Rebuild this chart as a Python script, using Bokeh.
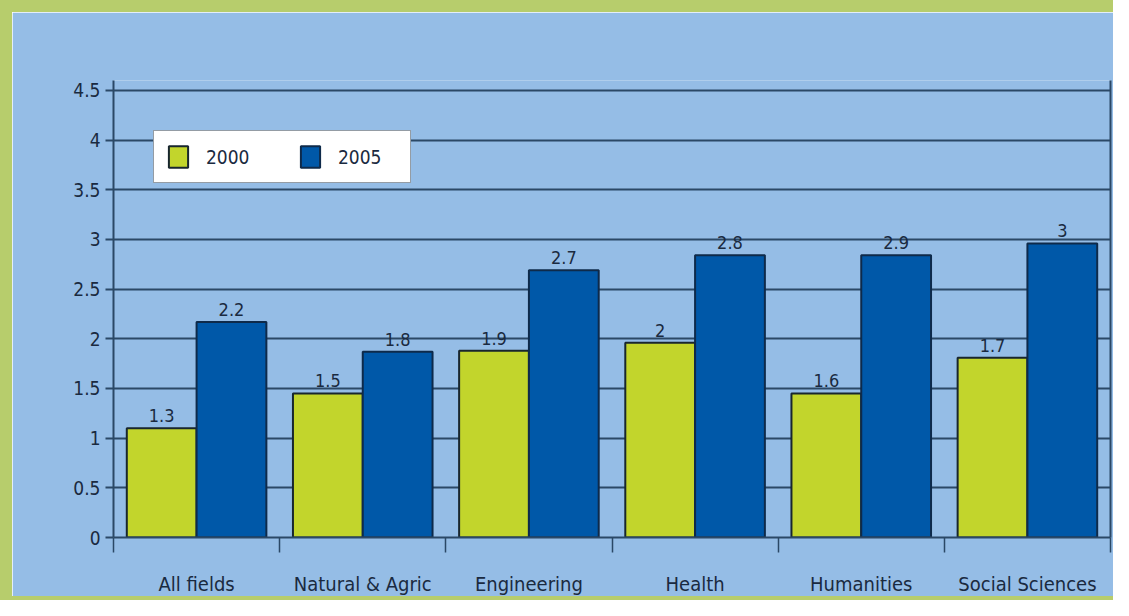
from bokeh.plotting import figure
from bokeh.models import (ColumnDataSource, FixedTicker, LinearAxis, Range1d,
                          Legend, LegendItem)
from bokeh.transform import dodge
from bokeh.core.properties import value
from bokeh.embed import file_html
from bokeh.resources import INLINE

# ---- data ----
categories = ["All fields", "Natural & Agric", "Engineering", "Health",
              "Humanities", "Social Sciences"]
values_2000 = [1.10, 1.45, 1.88, 1.96, 1.45, 1.81]
values_2005 = [2.17, 1.87, 2.69, 2.84, 2.84, 2.96]
labels_2000 = ["1.3", "1.5", "1.9", "2", "1.6", "1.7"]
labels_2005 = ["2.2", "1.8", "2.7", "2.8", "2.9", "3"]
series_names = ["2000", "2005"]
y_ticks = [0, 0.5, 1, 1.5, 2, 2.5, 3, 3.5, 4, 4.5]
y_tick_labels = ["0", "0.5", "1", "1.5", "2", "2.5", "3", "3.5", "4", "4.5"]

FONT = "DejaVu Sans Condensed"
BG = "#95bde6"
GREEN = "#c2d52c"
BLUE = "#0058a8"
DARK = "#1a2a40"
GRID = "#2b4866"
FRAME = "#b7cd6c"

pos = [i + 0.5 for i in range(len(categories))]
src = ColumnDataSource(dict(cat=categories, pos=pos,
                            v2000=values_2000, v2005=values_2005,
                            l2000=labels_2000, l2005=labels_2005))

p = figure(width=1113, height=600, output_backend="svg", toolbar_location=None,
           x_range=Range1d(0, len(categories)), y_range=Range1d(0, 4.6),
           min_border_left=101, min_border_right=15, min_border_top=68,
           min_border_bottom=75)
p.styles = {"border-left": f"12px solid {FRAME}", "border-top": f"12px solid {FRAME}",
            "border-bottom": f"4px solid {FRAME}", "box-sizing": "border-box"}
p.background_fill_color = BG
p.border_fill_color = BG
p.outline_line_color = None

# x axis: labels at category centres, ticks at category boundaries
xa = p.xaxis[0]
xa.ticker = FixedTicker(ticks=pos, minor_ticks=list(range(len(categories) + 1)))
xa.major_label_overrides = {x: c for x, c in zip(pos, categories)}
xa.major_tick_out = 0
xa.major_tick_in = 0
xa.minor_tick_out = 15
xa.minor_tick_in = 0
xa.minor_tick_line_color = GRID
xa.minor_tick_line_width = 1.5
xa.axis_line_color = GRID
xa.axis_line_width = 2
xa.major_label_standoff = 19
xa.major_label_text_font = FONT
xa.major_label_text_font_size = "20px"
xa.major_label_text_color = DARK

ya = p.yaxis[0]
ya.ticker = FixedTicker(ticks=y_ticks)
ya.major_label_overrides = {t: l for t, l in zip(y_ticks, y_tick_labels)}
ya.major_tick_out = 8
ya.major_tick_in = 0
ya.major_tick_line_color = GRID
ya.major_tick_line_width = 2
ya.minor_tick_line_color = None
ya.axis_line_color = GRID
ya.axis_line_width = 2
ya.major_label_standoff = 5
ya.major_label_text_font = FONT
ya.major_label_text_font_size = "19px"
ya.major_label_text_color = DARK

ra = LinearAxis(ticker=FixedTicker(ticks=[]), axis_line_color=GRID,
                axis_line_width=2, major_tick_line_color=None,
                minor_tick_line_color=None, major_label_text_font_size="0px")
p.add_layout(ra, "right")

p.xgrid.grid_line_color = None
p.ygrid.ticker = FixedTicker(ticks=y_ticks[1:])
p.ygrid.grid_line_color = GRID
p.ygrid.grid_line_width = 2

off = 0.21
w = 0.42
r1 = p.vbar(x=dodge("pos", -off), top="v2000", width=w, source=src,
            fill_color=GREEN, line_color="#18262e", line_width=2)
r2 = p.vbar(x=dodge("pos", off), top="v2005", width=w, source=src,
            fill_color=BLUE, line_color="#0e2a4a", line_width=2)

for dx, col in ((-off, "2000"), (off, "2005")):
    p.text(x=dodge("pos", dx), y="v" + col, text="l" + col, source=src,
           text_align="center", text_baseline="bottom", y_offset=-6,
           text_font=value(FONT), text_font_size="18px", text_color=DARK)

legend = Legend(items=[LegendItem(label=series_names[0], renderers=[r1]),
                       LegendItem(label=series_names[1], renderers=[r2])],
                location=(40, 354), orientation="horizontal",
                padding=12, spacing=32, label_standoff=16, label_width=60,
                label_height=27, glyph_width=24, glyph_height=27,
                label_text_font=FONT, label_text_font_size="19px",
                label_text_color=DARK, border_line_color="#2a3a4a",
                border_line_width=1.5, background_fill_color="white",
                background_fill_alpha=1.0)
p.add_layout(legend)

open("out.html", "w").write(file_html(p, INLINE))
